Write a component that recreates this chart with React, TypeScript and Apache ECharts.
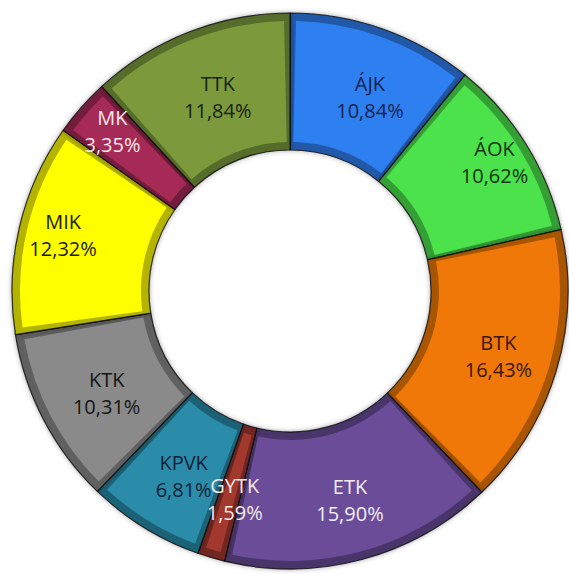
import React, { useEffect, useRef } from "react";
import * as echarts from "echarts";

const categories = ["ÁJK", "ÁOK", "BTK", "ETK", "GYTK", "KPVK", "KTK", "MIK", "MK", "TTK"];
const shares = [10.84, 10.62, 16.43, 15.9, 1.59, 6.81, 10.31, 12.32, 3.35, 11.84];
const faceColors = ["#2E7FF0", "#4BE24B", "#F07808", "#6A4C98", "#A3382E", "#2B8CAA", "#8A8A8A", "#FFFF00", "#A52A55", "#7C9A3C"];
const labelColors = ["#13244d", "#12320f", "#3a1800", "#f2eefa", "#f6e9e9", "#0f2238", "#151515", "#1a1a00", "#f7e8ee", "#18220c"];
const titleText = "Hallgatói létszám megoszlása karonként, egyetemi szinten (%)";

// label placement tweaks (style only)
const defaultLabelOffset = [5, 4];
const labelOffsetOverrides: Record<string, number[]> = {
  "ÁJK": [9, 6],
  "ÁOK": [24, -17],
  "MIK": [-20, -8],
  "MK": [-18, -20],
};

function shade(hex: string, f: number): string {
  const n = parseInt(hex.slice(1), 16);
  const r = Math.round(((n >> 16) & 255) * f);
  const g = Math.round(((n >> 8) & 255) * f);
  const b = Math.round((n & 255) * f);
  return `rgb(${r},${g},${b})`;
}

export default function App() {
  const ref = useRef<HTMLDivElement>(null);
  useEffect(() => {
    if (!ref.current) return;
    const chart = echarts.init(ref.current, undefined, { renderer: "svg" });
    const center = [290, 291];
    chart.setOption({
      animation: false,
      backgroundColor: "#ffffff",
      graphic: [
        {
          type: "text",
          left: 20,
          top: -29,
          style: {
            text: titleText,
            font: "bold 25px 'Open Sans', sans-serif",
            fill: "#000",
          },
          silent: true,
        },
      ],
      series: [
        {
          type: "pie",
          center,
          radius: [141, 278],
          startAngle: 90,
          clockwise: true,
          silent: true,
          label: { show: false },
          labelLine: { show: false },
          itemStyle: {
            borderColor: "rgba(10,10,10,0.8)",
            borderWidth: 1.2,
            shadowBlur: 5,
            shadowColor: "rgba(0,0,0,0.35)",
          },
          data: categories.map((c, i) => ({
            name: c,
            value: shares[i],
            itemStyle: { color: shade(faceColors[i], 0.7) },
          })),
        },
        {
          type: "pie",
          center,
          radius: [149, 270],
          startAngle: 90,
          clockwise: true,
          padAngle: 2.5,
          silent: true,
          avoidLabelOverlap: false,
          labelLayout: { hideOverlap: false },
          labelLine: { show: false },
          label: {
            show: true,
            position: "inside",
            fontFamily: "'Open Sans', sans-serif",
            fontSize: 20,
            lineHeight: 27,
            align: "center",
            offset: defaultLabelOffset,
            formatter: (p: any) =>
              `${p.name}\n${Number(p.value).toFixed(2).replace(".", ",")}%`,
          },
          data: categories.map((c, i) => ({
            name: c,
            value: shares[i],
            itemStyle: { color: faceColors[i] },
            label: {
              color: labelColors[i],
              offset: labelOffsetOverrides[c] || defaultLabelOffset,
            },
          })),
        },
      ],
    });
    return () => chart.dispose();
  }, []);
  return (
    <div
      ref={ref}
      style={{ position: "fixed", left: 0, top: 0, width: 569, height: 574 }}
    />
  );
}
